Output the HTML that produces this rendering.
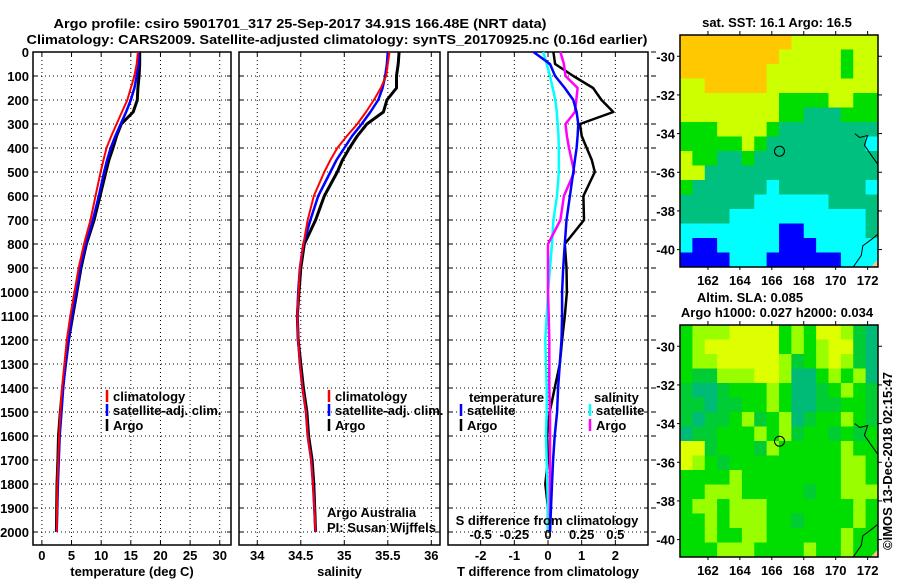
<!DOCTYPE html>
<html><head><meta charset="utf-8"><style>
body{margin:0;background:#fff}
svg{display:block;font-family:"Liberation Sans",sans-serif}
text{font-weight:bold;font-size:13px;fill:#000}
</style></head><body>
<svg id="c" width="900" height="580" viewBox="0 0 900 580"></svg>
<script>
const depths=[0,50,100,150,200,250,300,350,400,450,500,600,700,800,900,1000,1100,1200,1300,1400,1500,1600,1700,1800,1900,2000];
const climT=[16.2,16.0,15.6,15.0,14.4,13.5,12.6,11.7,10.9,10.4,9.9,9.05,8.2,7.1,6.2,5.5,4.8,4.2,3.8,3.4,3.1,2.9,2.75,2.6,2.55,2.5];
const satT=[16.3,16.3,16.0,15.6,15.0,14.2,13.3,12.4,11.6,11.0,10.5,9.6,8.6,7.4,6.5,5.8,5.1,4.5,4.0,3.6,3.3,3.0,2.85,2.7,2.6,2.5];
const argoT=[16.5,16.5,16.4,16.2,16.1,15.4,13.4,12.6,12.0,11.3,10.8,9.8,8.8,7.5,6.6,5.9,5.2,4.5,4.0,3.5,3.1,2.8,2.7,2.55,2.5,2.45];
const climS=[35.52,35.50,35.48,35.42,35.34,35.25,35.15,35.03,34.92,34.84,34.77,34.65,34.58,34.53,34.49,34.475,34.46,34.47,34.49,34.52,34.56,34.58,34.62,34.64,34.655,34.67];
const satS=[35.50,35.49,35.47,35.44,35.39,35.30,35.20,35.09,35.0,34.91,34.84,34.70,34.61,34.53,34.49,34.47,34.46,34.47,34.49,34.52,34.56,34.58,34.62,34.64,34.655,34.67];
const argoS=[35.63,35.62,35.60,35.60,35.49,35.45,35.26,35.15,35.06,34.98,34.92,34.77,34.67,34.54,34.50,34.48,34.46,34.47,34.5,34.53,34.57,34.59,34.63,34.65,34.66,34.67];
const dTargo=[0.16,0.21,0.75,1.34,1.59,1.94,0.95,1.0,1.15,1.3,1.39,1.05,1.07,0.5,0.55,0.56,0.5,0.42,0.35,0.2,0.05,-0.03,0.0,-0.08,0.0,0.0];
const dTsat=[-0.43,0.06,0.21,0.5,0.75,0.85,0.9,0.88,0.85,0.8,0.75,0.65,0.55,0.5,0.45,0.42,0.42,0.4,0.35,0.3,0.27,0.2,0.15,0.12,0.09,0.06];
const dSsat=[-0.036,-0.01,0.015,0.035,0.054,0.065,0.072,0.078,0.08,0.08,0.08,0.067,0.04,0.03,0.015,0,-0.01,-0.02,-0.015,-0.01,-0.01,-0.015,-0.01,-0.005,0,0];
const dSargo=[0.092,0.118,0.13,0.22,0.21,0.2,0.13,0.14,0.156,0.175,0.195,0.118,0.092,0.0,0.0,0.0,0.005,0.01,0.01,0.01,0.015,0.015,0.015,0.015,0.015,0.015];
const depthTicks=[0,100,200,300,400,500,600,700,800,900,1000,1100,1200,1300,1400,1500,1600,1700,1800,1900,2000];
const tTicks=[0,5,10,15,20,25,30];
const sTicks=[34,34.5,35,35.5,36];
const sTickLabels=["34","34.5","35","35.5","36"];
const dTTicks=[-2,-1,0,1,2];
const dSTicks=[-0.5,-0.25,0,0.25,0.5];
const dSTickLabels=["-0.5","-0.25","0","0.25","0.5"];
const lonTicks=[162,164,166,168,170,172];
const latTicks=[-30,-32,-34,-36,-38,-40];
const argoLon=166.48, argoLat=-34.91;
const sstGrid=[
"oooooooooyyyyyyy","ooooooooyyyyygyy","oooooooyyyyyygyy","yyoooooyyyyyyyyy",
"yyyyyyyyggggyygg","yyyyyyyyggtttggg","gggyyyygtttttttt","gggggygttttttttc",
"yggttgtttttttttt","yytttttttttttttt","gttttttctttttttc","ttttttcccccctttt",
"ttttccccccccccct","ccccccccbbccccct","cbbcccccbbbccccc","bbbbcccbbbbbbccc"];
const slaGrid=[
"glllyyyyglgyylmt","glyyyyyyglglyymt","gllyyyyylmglylmt","gmmlllyylttglglt",
"mttmggglgttmglgm","mmtmmgglgttmmggm","mtmmglmgltmgglgm","tmmggglglmggmgmg",
"yymgggmlggggglgg","ylgmgggggggggllg","gggglggggggggllg","gglllgggggmgglll",
"gllglllggggggglg","gglglllggmgggglg","gglggllgggggglgg","ggglllgggglgglgg"];

const NS="http://www.w3.org/2000/svg";
const svg=document.getElementById('c');
function mk(tag,attrs,parent){const e=document.createElementNS(NS,tag);for(const k in attrs)e.setAttribute(k,attrs[k]);(parent||svg).appendChild(e);return e;}
function txt(x,y,s,anchor,extra,parent){const e=mk('text',Object.assign({x:x,y:y,'text-anchor':anchor||'middle'},extra||{}),parent);e.textContent=s;return e;}

const TOP=52,BOT=545;
const yD=d=>TOP+d*0.24;
const panels=[
 {name:'temperature',x0:33,x1:231,vmin:-1.5,vmax:31.9},
 {name:'salinity',x0:239,x1:440,vmin:33.79,vmax:36.1},
 {name:'difference',x0:448,x1:648,vmin:-2.97,vmax:2.97}];
panels.forEach(p=>{p.sx=v=>p.x0+(v-p.vmin)/(p.vmax-p.vmin)*(p.x1-p.x0);});
const sxS=v=>panels[2].sx(v*4);

let t=txt(300,28,"Argo profile: csiro 5901701_317 25-Sep-2017 34.91S 166.48E (NRT data)",'middle',{textLength:493,lengthAdjust:'spacingAndGlyphs','font-size':'14'});

t=txt(337,44,"Climatology: CARS2009. Satellite-adjusted climatology: synTS_20170925.nc (0.16d earlier)",'middle',{textLength:621,lengthAdjust:'spacingAndGlyphs','font-size':'14'});


depthTicks.forEach(d=>{const e=txt(29,yD(d)+5,String(d),'end');});

function panelFrame(p,xt,xl,title){
 const g=mk('g',{});
 depthTicks.forEach(d=>{const l=mk('line',{x1:p.x0,x2:p.x1,y1:yD(d),y2:yD(d),stroke:'#000','stroke-width':1,'stroke-dasharray':'1,3'},g);
  mk('line',{x1:p.x0,x2:p.x0+4,y1:yD(d),y2:yD(d),stroke:'#000'},g);mk('line',{x1:p.x1,x2:p.x1-4,y1:yD(d),y2:yD(d),stroke:'#000'},g);});
 xt.forEach((v,i)=>{const x=p.sx(v);const l=mk('line',{x1:x,x2:x,y1:TOP,y2:BOT,stroke:'#000','stroke-width':1,'stroke-dasharray':'1,3'},g);
  mk('line',{x1:x,x2:x,y1:TOP,y2:TOP+4,stroke:'#000'},g);mk('line',{x1:x,x2:x,y1:BOT,y2:BOT-4,stroke:'#000'},g);
  const e=txt(x,560,xl[i],'middle',{},g);});
 const r=mk('rect',{x:p.x0,y:TOP,width:p.x1-p.x0,height:BOT-TOP,fill:'none',stroke:'#000','stroke-width':1.5},g);
 const a=txt((p.x0+p.x1)/2,576,title,'middle',{},g);
 return g;
}
function series(g,sx,vals,color,w,name){
 const pts=vals.map((v,i)=>sx(v).toFixed(1)+','+yD(depths[i]).toFixed(1)).join(' ');
 const l=mk('polyline',{points:pts,fill:'none',stroke:color,'stroke-width':w,'stroke-linejoin':'round'},g);
 
 
}
function leg(g,x,y,color,label,name){
 mk('line',{x1:x,x2:x,y1:y-7,y2:y+5,stroke:color,'stroke-width':2.5},g);
 const e=txt(x+6,y+4,label,'start',{},g);
 
 
}
let p=panels[0];let g=panelFrame(p,tTicks,tTicks.map(String),'temperature (deg C)');
series(g,p.sx,argoT,'#000',3,'argo-temperature-line');
series(g,p.sx,satT,'#0000ff',2.5,'satellite-temperature-line');
series(g,p.sx,climT,'#ff0000',2,'climatology-temperature-line');
leg(g,107,397,'#f00','climatology','legend-climatology');
leg(g,107,411,'#00f','satellite-adj. clim.','legend-satellite');
leg(g,107,426,'#000','Argo','legend-argo');
p=panels[1];g=panelFrame(p,sTicks,sTickLabels,'salinity');
series(g,p.sx,argoS,'#000',3,'argo-salinity-line');
series(g,p.sx,satS,'#0000ff',2.5,'satellite-salinity-line');
series(g,p.sx,climS,'#ff0000',2,'climatology-salinity-line');
leg(g,329,397,'#f00','climatology','legend-climatology');
leg(g,329,411,'#00f','satellite-adj. clim.','legend-satellite');
leg(g,329,426,'#000','Argo','legend-argo');
t=txt(327,517,'Argo Australia','start',{'font-weight':'normal','font-size':'12'},g);
t=txt(327,532,'PI: Susan Wijffels','start',{'font-weight':'normal','font-size':'12'},g);
p=panels[2];g=panelFrame(p,dTTicks,dTTicks.map(String),'T difference from climatology');
depthTicks.forEach(d=>mk('line',{x1:651,x2:656,y1:yD(d),y2:yD(d),stroke:'#000'},g));
series(g,p.sx,dTargo,'#000',2.5,'argo-t-diff-line');
series(g,sxS,dSsat,'#00ffff',2.5,'satellite-s-diff-line');
series(g,sxS,dSargo,'#ff00ff',2.5,'argo-s-diff-line');
series(g,p.sx,dTsat,'#0000ff',2.5,'satellite-t-diff-line');
t=txt(469,402,'temperature','start',{},g);
t=txt(594,402,'salinity','start',{},g);
leg(g,461,411,'#00f','satellite','legend-t-satellite');
leg(g,461,426,'#000','Argo','legend-t-argo');
leg(g,590,411,'#0ff','satellite','legend-s-satellite');
leg(g,590,426,'#f0f','Argo','legend-s-argo');
t=txt(547,525,'S difference from climatology','middle',{},g);
dSTicks.forEach((v,i)=>{const e=txt(sxS(v),539,dSTickLabels[i],'middle',{},g);});

const colsS={o:'#ffc800',y:'#ccff00',g:'#00dd00',t:'#00c080',c:'#00ffff',b:'#0000ff'};
const colsA={g:'#00dd00',l:'#99ff00',y:'#ddff00',t:'#00bb77',m:'#00cc33'};
const MX0=680,MX1=878,LON0=160.25,LON1=172.65,LAT0=-28.9,LAT1=-40.9;
const mxF=lon=>MX0+(lon-LON0)/(LON1-LON0)*(MX1-MX0);
function drawMap(top,grid,cols,name){
 const bot=top+232;const my=lat=>top+(lat-LAT0)/(LAT1-LAT0)*(bot-top);
 const gg=mk('g',{});
 const nr=grid.length,nc=grid[0].length,cw=(MX1-MX0)/nc,ch=(bot-top)/nr;
 grid.forEach((row,r)=>{for(let c=0;c<nc;c++){const cell=mk('rect',{x:MX0+c*cw,y:top+r*ch,width:cw+0.5,height:ch+0.5,fill:cols[row[c]]},gg);}});
 mk('path',{d:`M${mxF(171.2)},${my(-34)} L${mxF(171.5)},${my(-34.2)} L${mxF(172)},${my(-34.1)} L${mxF(171.8)},${my(-34.6)} L${mxF(172.3)},${my(-35.2)} L${mxF(172.65)},${my(-35.6)}`,fill:'none',stroke:'#000','stroke-width':1},gg);
 mk('path',{d:`M${mxF(171.1)},${my(-40.9)} L${mxF(171.6)},${my(-40.3)} L${mxF(171.7)},${my(-39.8)} L${mxF(172.2)},${my(-39.5)} L${mxF(172.65)},${my(-39.2)}`,fill:'none',stroke:'#000','stroke-width':1},gg);
 mk('path',{d:`M${mxF(172.2)},${my(-40.9)} L${mxF(172.65)},${my(-40.5)} L${mxF(172.65)},${my(-40.9)}Z`,fill:'#ffc090'},gg);
 const m=mk('circle',{cx:mxF(argoLon),cy:my(argoLat),r:5,fill:'none',stroke:'#000','stroke-width':1},gg);
 mk('rect',{x:MX0,y:top,width:MX1-MX0,height:bot-top,fill:'none',stroke:'#000','stroke-width':1.5},gg);
 latTicks.forEach(l=>{mk('line',{x1:MX1,x2:MX1+4,y1:my(l),y2:my(l),stroke:'#000'},gg);mk('line',{x1:MX0,x2:MX0-3,y1:my(l),y2:my(l),stroke:'#000'},gg);
  const e=txt(675,my(l)+5,String(l),'end',{},gg);});
 lonTicks.forEach(l=>{mk('line',{x1:mxF(l),x2:mxF(l),y1:top,y2:top-4,stroke:'#000'},gg);mk('line',{x1:mxF(l),x2:mxF(l),y1:bot,y2:bot+3,stroke:'#000'},gg);
  const e=txt(mxF(l),bot+18,String(l),'middle',{},gg);});
}
drawMap(35,sstGrid,colsS,'sst-map');
drawMap(325,slaGrid,colsA,'sla-map');
t=txt(777,27,'sat. SST: 16.1 Argo: 16.5');
t=txt(750,302,'Altim. SLA: 0.085');
t=txt(777,317,'Argo h1000: 0.027 h2000: 0.034');
t=txt(0,0,'©IMOS 13-Dec-2018 02:15:47','middle',{transform:'translate(892,461) rotate(-90)','font-weight':'normal','font-size':'13'});
</script>
</body></html>
